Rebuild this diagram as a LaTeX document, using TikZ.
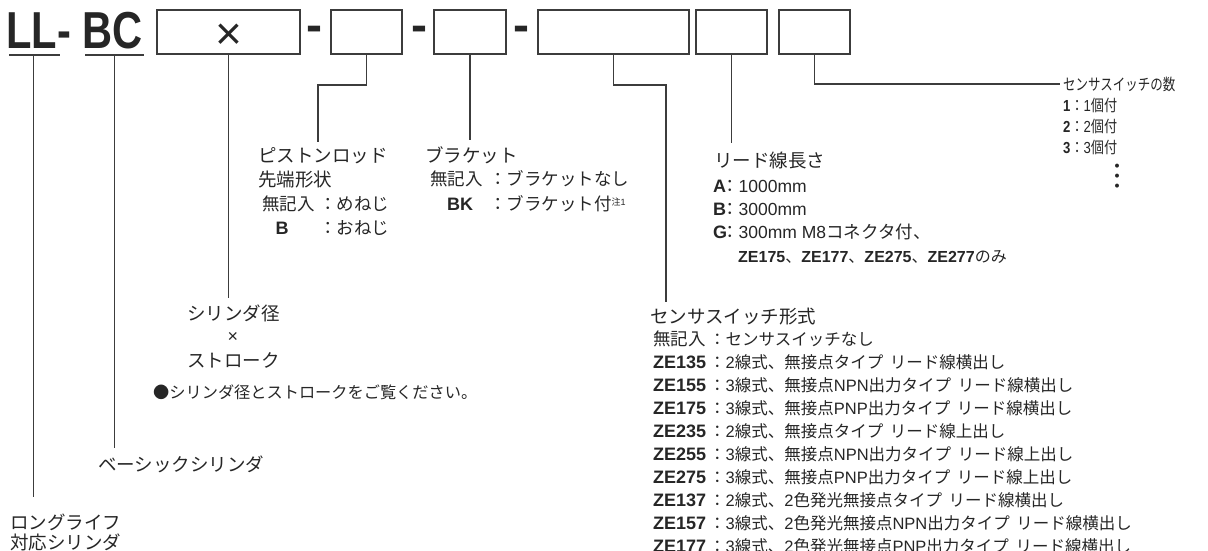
\documentclass[tikz,border=0pt]{standalone}
\usepackage{fontspec}
\usepackage{graphicx}
\setmainfont{Liberation Sans}
\newfontfamily\jp{Noto Sans CJK JP}
\newcommand{\J}[1]{{\jp #1}}
\definecolor{ink}{HTML}{262626}
\definecolor{lin}{HTML}{3C3C3C}
\begin{document}
\begin{tikzpicture}[x=1pt,y=-1pt,
  box/.style={draw=lin,line width=1.3pt,minimum height=44pt,inner sep=0pt},
  conn/.style={draw=lin,line width=1.1pt},
  big/.style={anchor=base west,inner sep=0pt,text=ink,font=\fontsize{52}{52}\selectfont\bfseries},
  dsh/.style={anchor=base west,inner sep=0pt,text=ink,font=\fontsize{48}{48}\selectfont\bfseries},
  hd/.style={anchor=west,inner sep=0pt,text height=15pt,text depth=0.9pt,text=ink,font=\jp\fontsize{18.5}{20}\selectfont},
  it/.style={anchor=west,inner sep=0pt,text height=13.4pt,text depth=0.9pt,text=ink,font=\fontsize{16.5}{20}\selectfont},
  lt/.style={anchor=west,inner sep=0pt,text height=14.2pt,text depth=0.9pt,text=ink,font=\fontsize{17.5}{20}\selectfont},
  code/.style={it,font=\fontsize{18}{20}\selectfont\bfseries},
  nt/.style={anchor=west,inner sep=0pt,text height=13pt,text depth=0.8pt,text=ink,font=\fontsize{16.2}{18}\selectfont},
  sm/.style={anchor=west,inner sep=0pt,text height=13pt,text depth=0.8pt,text=ink,font=\fontsize{16}{18}\selectfont}]
\useasboundingbox (0,0) rectangle (1208,550);
\clip (0,0) rectangle (1208,550);
% title
\node[big] (ll) at (6,48) {\scalebox{0.8}[1]{LL-}};
\node[big] (bc) at (82,48) {\scalebox{0.8}[1]{BC}};
\node[box,minimum width=143pt] (b1) at (228.5,32) {};
\node[anchor=base,inner sep=0pt,text=ink,font=\fontsize{46}{46}\selectfont] (x1) at (228.5,49) {×};
\node[dsh] (d1) at (306,41.5) {-};
\node[box,minimum width=71pt] (b2) at (366.5,32) {};
\node[dsh] (d2) at (411,41.5) {-};
\node[box,minimum width=72pt] (b3) at (470,32) {};
\node[dsh] (d3) at (513,41.5) {-};
\node[box,minimum width=151pt] (b4) at (613.5,32) {};
\node[box,minimum width=71pt] (b5) at (731.5,32) {};
\node[box,minimum width=71pt] (b6) at (814.5,32) {};
% underlines
\coordinate (uLa) at (9,55); \coordinate (uLb) at (60,55); \coordinate (uLm) at (33.5,55);
\coordinate (uBa) at (85,55); \coordinate (uBb) at (144,55); \coordinate (uBm) at (114.5,55);
\draw[conn,line width=1.4pt] (uLa) -- (uLb);
\draw[conn,line width=1.4pt] (uBa) -- (uBb);
% labels left
\node[hd] (long1) at (10,522) {ロングライフ};
\node[hd] (long2) at (10,542) {対応シリンダ};
\node[hd] (basic) at (98,464) {ベーシックシリンダ};
\coordinate (eL) at (33.5,497);
\coordinate (eB) at (114.5,448);
\draw[conn] (uLm) -- (eL);
\draw[conn] (uBm) -- (eB);
% cylinder
\node[hd] (cyl) at (187,313) {シリンダ径};
\node[anchor=center,inner sep=0pt,text=ink,font=\fontsize{18}{18}\selectfont] (cx) at (233,337) {×};
\node[hd] (strk) at (187,360) {ストローク};
\node[nt] (note) at (153,392) {\J{●シリンダ径とストロークをご覧ください。}};
\coordinate (e1) at (228.5,298);
\draw[conn] (b1.south) -- (e1);
% piston rod
\node[hd] (pr1) at (258,155) {ピストンロッド};
\node[hd] (pr2) at (258,179) {先端形状};
\node[lt] (pr3a) at (262,204) {\J{無記入}};
\node[lt] (pr3b) at (319,204) {\J{：めねじ}};
\node[code,anchor=center] (pr4a) at (282,228) {B};
\node[lt] (pr4b) at (319,228) {\J{：おねじ}};
\coordinate (k2a) at (366.5,85); \coordinate (k2b) at (318,85); \coordinate (e2) at (318,142);
\draw[conn] (b2.south) -- (k2a) -- (k2b) -- (e2);
% bracket
\node[hd] (br1) at (425,155) {ブラケット};
\node[lt] (br2a) at (430,179) {\J{無記入}};
\node[lt] (br2b) at (489,179) {\J{：ブラケットなし}};
\node[code,anchor=center] (br3a) at (460,204) {BK};
\node[lt] (br3b) at (489,204) {\J{：ブラケット付}\raisebox{5pt}{\fontsize{9}{9}\selectfont\J{注}1}};
\coordinate (e3) at (470,140);
\draw[conn] (b3.south) -- (e3);
% lead wire
\node[hd] (lw1) at (714,160) {リード線長さ};
\node[code] (lwA) at (713,186) {A};
\node[lt] (lwA2) at (721,186) {\J{：}1000mm};
\node[code] (lwB) at (713,209) {B};
\node[lt] (lwB2) at (721,209) {\J{：}3000mm};
\node[code] (lwG) at (713,232) {G};
\node[lt] (lwG2) at (721,232) {\J{：}300mm M8\J{コネクタ付、}};
\node[it,font=\fontsize{16}{20}\selectfont] (lwG3) at (738,256) {\textbf{ZE175}\J{、}\textbf{ZE177}\J{、}\textbf{ZE275}\J{、}\textbf{ZE277}\J{のみ}};
\coordinate (e5) at (731.5,143);
\draw[conn] (b5.south) -- (e5);
% sensor switch type
\node[hd] (ss) at (650,316) {センサスイッチ形式};
\coordinate (k4a) at (613.5,85); \coordinate (k4b) at (666,85); \coordinate (e4) at (666,302);
\draw[conn] (b4.south) -- (k4a) -- (k4b) -- (e4);
\node[lt] (s0a) at (653,339) {\J{無記入}};
\node[it] (s0b) at (709,339) {\J{：センサスイッチなし}};
\node[code] (s1a) at (653,362) {ZE135};
\node[it] (s1b) at (709,362) {\J{：}2\J{線式、無接点タイプ\hspace{0.4em}リード線横出し}};
\node[code] (s2a) at (653,385) {ZE155};
\node[it] (s2b) at (709,385) {\J{：}3\J{線式、無接点}NPN\J{出力タイプ\hspace{0.4em}リード線横出し}};
\node[code] (s3a) at (653,408) {ZE175};
\node[it] (s3b) at (709,408) {\J{：}3\J{線式、無接点}PNP\J{出力タイプ\hspace{0.4em}リード線横出し}};
\node[code] (s4a) at (653,431) {ZE235};
\node[it] (s4b) at (709,431) {\J{：}2\J{線式、無接点タイプ\hspace{0.4em}リード線上出し}};
\node[code] (s5a) at (653,454) {ZE255};
\node[it] (s5b) at (709,454) {\J{：}3\J{線式、無接点}NPN\J{出力タイプ\hspace{0.4em}リード線上出し}};
\node[code] (s6a) at (653,477) {ZE275};
\node[it] (s6b) at (709,477) {\J{：}3\J{線式、無接点}PNP\J{出力タイプ\hspace{0.4em}リード線上出し}};
\node[code] (s7a) at (653,500) {ZE137};
\node[it] (s7b) at (709,500) {\J{：}2\J{線式、}2\J{色発光無接点タイプ\hspace{0.4em}リード線横出し}};
\node[code] (s8a) at (653,523) {ZE157};
\node[it] (s8b) at (709,523) {\J{：}3\J{線式、}2\J{色発光無接点}NPN\J{出力タイプ\hspace{0.4em}リード線横出し}};
\node[code] (s9a) at (653,546) {ZE177};
\node[it] (s9b) at (709,546) {\J{：}3\J{線式、}2\J{色発光無接点}PNP\J{出力タイプ\hspace{0.4em}リード線横出し}};
% number of switches
\coordinate (k6a) at (814.5,84); \coordinate (e6) at (1060,84);
\draw[conn] (b6.south) -- (k6a) -- (e6);
\node[sm] (n0) at (1063,84) {\scalebox{0.78}[1]{\J{センサスイッチの数}}};
\node[sm] (n1) at (1063,105) {\scalebox{0.82}[1]{\textbf{1}\J{：}1\J{個付}}};
\node[sm] (n2) at (1063,126) {\scalebox{0.82}[1]{\textbf{2}\J{：}2\J{個付}}};
\node[sm] (n3) at (1063,147) {\scalebox{0.82}[1]{\textbf{3}\J{：}3\J{個付}}};
\node[anchor=center,inner sep=0pt,text=ink,font=\jp\fontsize{30}{30}\selectfont] (n4) at (1117,176) {︙};
\end{tikzpicture}
\end{document}
